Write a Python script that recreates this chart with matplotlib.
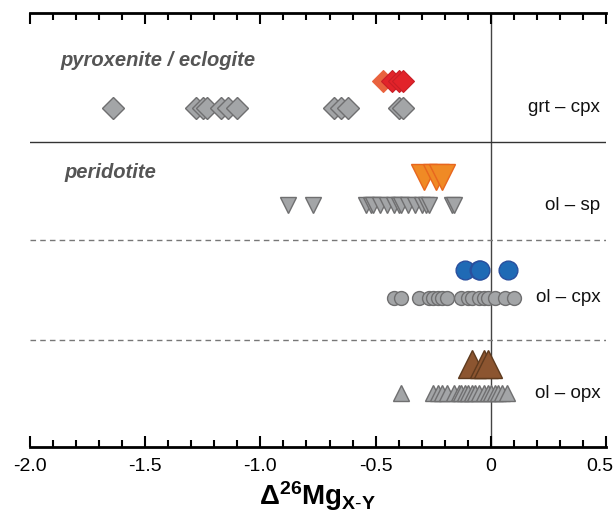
import matplotlib
matplotlib.use("Agg")
import matplotlib.pyplot as plt
from matplotlib.ticker import MultipleLocator
from matplotlib.transforms import ScaledTranslation

plt.rcParams['font.family'] = ['Liberation Sans', 'DejaVu Sans']
plt.rcParams['mathtext.fontset'] = 'custom'
plt.rcParams['mathtext.rm'] = 'Liberation Sans'
plt.rcParams['mathtext.bf'] = 'Liberation Sans:bold'

# ---- data ----
grt_cpx_lit = [-1.64, -1.28, -1.25, -1.23, -1.17, -1.14, -1.10, -0.68, -0.65, -0.62, -0.40, -0.38]
grt_cpx_new_light = [-0.47]
grt_cpx_new = [-0.43, -0.40, -0.38]
ol_sp_lit = [-0.88, -0.77, -0.54, -0.52, -0.51, -0.48, -0.45, -0.42, -0.40, -0.39, -0.36,
             -0.33, -0.30, -0.28, -0.27, -0.17, -0.16]
ol_sp_new = [-0.29, -0.24, -0.21]
ol_cpx_lit = [-0.42, -0.39, -0.31, -0.27, -0.25, -0.23, -0.21, -0.19, -0.13, -0.10, -0.08,
              -0.05, -0.03, -0.01, 0.02, 0.06, 0.10]
ol_cpx_new = [-0.11, -0.05, -0.045, 0.075]
ol_opx_lit = [-0.39, -0.25, -0.23, -0.21, -0.19, -0.16, -0.14, -0.13, -0.11, -0.10, -0.08,
              -0.07, -0.05, -0.03, -0.01, 0.00, 0.02, 0.03, 0.05, 0.07]
ol_opx_new = [-0.08, -0.03, -0.01]
pair_labels = ['grt – cpx', 'ol – sp', 'ol – cpx', 'ol – opx']
group_labels = ['pyroxenite / eclogite', 'peridotite']
xtick_vals = [-2.0, -1.5, -1.0, -0.5, 0, 0.5]
xtick_labels = ['-2.0', '-1.5', '-1.0', '-0.5', '0', '0.5']

# ---- layout (pixel-like vertical units) ----
row_lit = [108, 205, 298, 393]
row_new = [81, 177, 270, 364]

fig = plt.figure(figsize=(6.15, 5.22), dpi=100)
ax = fig.add_axes([30/615, 1-447/522, 576/615, 434/522])
ax.set_xlim(-2.0, 0.5)
ax.set_ylim(447, 13)

gray_fc = '#a3a5a7'
gray_ec = '#6f6f70'

def pts(xs, y, **kw):
    ax.plot(xs, [y]*len(xs), linestyle='none', **kw)

pts(grt_cpx_lit, row_lit[0], marker='D', ms=11, mfc=gray_fc, mec=gray_ec, mew=1.0)
pts(grt_cpx_new_light, row_new[0], marker='D', ms=11.5, mfc='#e9623e', mec='#e9623e', mew=0.8)
pts(grt_cpx_new, row_new[0], marker='D', ms=11.5, mfc='#e2232a', mec='#c81e26', mew=0.8)

pts(ol_sp_lit, row_lit[1], marker='v', ms=12, mfc=gray_fc, mec=gray_ec, mew=1.0)
pts(ol_sp_new, row_new[1], marker='v', ms=18.5, mfc='#f08a25', mec='#e8661e', mew=1.0)

pts(ol_cpx_lit, row_lit[2], marker='o', ms=10, mfc=gray_fc, mec=gray_ec, mew=1.0)
pts(ol_cpx_new, row_new[2], marker='o', ms=13.5, mfc='#1f6ab5', mec='#2a4f9e', mew=1.0)

pts(ol_opx_lit, row_lit[3], marker='^', ms=12, mfc=gray_fc, mec=gray_ec, mew=1.0)
pts(ol_opx_new, row_new[3], marker='^', ms=19.5, mfc='#8c5530', mec='#5e3a1e', mew=1.0)

# separators
ax.axvline(0, color='#444444', lw=1.0, zorder=0)
ax.axhline(142, color='#333333', lw=1.0, zorder=0)
ax.axhline(240, color='#777777', lw=1.0, ls=(0, (4, 3)), zorder=0)
ax.axhline(340, color='#777777', lw=1.0, ls=(0, (4, 3)), zorder=0)

# texts
for lab, y in zip(pair_labels, row_lit):
    ax.text(0.475, y, lab, ha='right', va='center', fontsize=13.5, color='#111111')
ax.text(-1.87, 60, group_labels[0], ha='left', va='center', fontsize=14.5,
        fontweight='bold', fontstyle='italic', color='#555555')
ax.text(-1.85, 172, group_labels[1], ha='left', va='center', fontsize=14.5,
        fontweight='bold', fontstyle='italic', color='#555555')

# axes styling
for s in ['left', 'right']:
    ax.spines[s].set_visible(False)
for s in ['top', 'bottom']:
    ax.spines[s].set_linewidth(2.0)
ax.set_yticks([])
ax.xaxis.set_major_locator(MultipleLocator(0.5))
ax.xaxis.set_minor_locator(MultipleLocator(0.1))
ax.tick_params(axis='x', which='both', direction='in', top=True, bottom=True,
               labeltop=False, labelsize=14, pad=8)
ax.tick_params(axis='x', which='major', length=8, width=1.5)
ax.tick_params(axis='x', which='minor', length=5, width=1.5)
ax.set_xticks(xtick_vals)
ax.set_xticklabels(xtick_labels)
lbls = ax.get_xticklabels()
lbls[-1].set_transform(lbls[-1].get_transform() + ScaledTranslation(-6/100, 0, fig.dpi_scale_trans))
ax.set_xlabel(r'$\mathbf{\Delta^{26}Mg_{X\text{-}Y}}$', fontsize=20, labelpad=3)

fig.savefig('out.png', dpi=100)
